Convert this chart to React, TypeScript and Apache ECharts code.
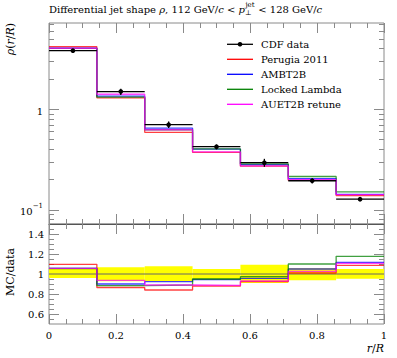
import React, { useEffect, useRef } from "react";
import * as echarts from "echarts";

// ---- data ----
const binEdges = [0, 0.142857, 0.285714, 0.428571, 0.571429, 0.714286, 0.857143, 1];
const binCenters = [0.071429, 0.214286, 0.357143, 0.5, 0.642857, 0.785714, 0.928571];

const cdfData = [3.82, 1.5, 0.703, 0.425, 0.295, 0.195, 0.128];
const cdfErrUp = [0.19, 0.1, 0.054, 0.021, 0.027, 0.012, 0.006];
const cdfErrDown = [0.15, 0.11, 0.051, 0.026, 0.027, 0.012, 0.006];

const perugia2011 = [4.19, 1.3, 0.59, 0.374, 0.272, 0.197, 0.139];
const ambt2b = [4.04, 1.35, 0.649, 0.402, 0.282, 0.205, 0.143];
const lockedLambda = [4.03, 1.32, 0.626, 0.404, 0.287, 0.215, 0.151];
const auet2bRetune = [4.04, 1.41, 0.626, 0.377, 0.274, 0.2, 0.142];

const ratioPerugia = [1.097, 0.865, 0.84, 0.88, 0.923, 1.01, 1.087];
const ratioAmbt2b = [1.057, 0.9, 0.923, 0.945, 0.957, 1.05, 1.117];
const ratioLocked = [1.055, 0.883, 0.89, 0.95, 0.973, 1.1, 1.177];
const ratioAuet2b = [1.057, 0.937, 0.89, 0.887, 0.93, 1.027, 1.107];

const bandLo = [0.96, 0.927, 0.927, 0.94, 0.91, 0.937, 0.953];
const bandHi = [1.05, 1.067, 1.077, 1.05, 1.093, 1.06, 1.05];

const legendNames = ["CDF data", "Perugia 2011", "AMBT2B", "Locked Lambda", "AUET2B retune"];
const legendColors = ["#000000", "#ff0000", "#0000ff", "#008000", "#ff00ff"];

const mainMajorTicks = [0.1, 1];
const mainMinorTicks = [0.08, 0.09, 0.2, 0.3, 0.4, 0.5, 0.6, 0.7, 0.8, 0.9, 2, 3, 4, 5, 6, 7];
const ratioMajorTicks = [0.6, 0.8, 1, 1.2, 1.4];
const ratioMinorTicks = [0.55, 0.65, 0.7, 0.75, 0.85, 0.9, 0.95, 1.05, 1.1, 1.15, 1.25, 1.3, 1.35, 1.45];

const FONT = "'DejaVu Serif', serif";
const FRAME = "#8a8a8a";

function stepData(vals: number[]) {
  return binEdges.map((e, i) => [e, vals[Math.min(i, vals.length - 1)]]);
}

function measure(text: string, font: string) {
  const c = document.createElement("canvas").getContext("2d");
  if (!c) return text.length * 6;
  c.font = font;
  return c.measureText(text).width;
}

export default function App() {
  const ref = useRef<HTMLDivElement>(null);
  useEffect(() => {
    if (!ref.current) return;
    const chart = echarts.init(ref.current, null, { renderer: "svg" });

    const tickStyle = { color: FRAME, width: 1 };
    const xAx = (grid: number, pos: string, labels: boolean, lineColor?: string) => ({
      gridIndex: grid,
      type: "value",
      min: 0,
      max: 1,
      interval: 0.2,
      position: pos,
      axisLine: lineColor ? { show: true, onZero: false, lineStyle: { color: lineColor, width: 1 } } : { show: false },
      axisTick: { show: true, inside: true, length: 10, lineStyle: tickStyle },
      minorTick: { show: true, splitNumber: 4, length: 5, lineStyle: tickStyle },
      splitLine: { show: false },
      minorSplitLine: { show: false },
      axisLabel: labels
        ? {
            show: true,
            margin: 6,
            fontFamily: FONT,
            fontSize: 10,
            color: "#000",
            formatter: (v: number) => (Math.abs(v) < 1e-9 ? "0" : Math.abs(v - 1) < 1e-9 ? "1" : v.toFixed(1)),
          }
        : { show: false },
    });

    const logAx = (pos: string, ticks: number[], len: number, labels: boolean) => ({
      gridIndex: 0,
      type: "log",
      logBase: 10,
      min: 0.0725,
      max: 7.2,
      position: pos,
      offset: 0,
      axisLine: { show: false },
      axisTick: { show: true, inside: true, length: len, customValues: ticks, lineStyle: tickStyle },
      splitLine: { show: false },
      axisLabel: labels
        ? {
            show: true,
            customValues: ticks,
            margin: 6,
            fontFamily: FONT,
            fontSize: 10,
            color: "#000",
            formatter: (v: number) => {
              const e = Math.round(Math.log10(v));
              if (e === 0) return "{b|1}";
              return "{b|10}{s|−" + Math.abs(e) + "}";
            },
            rich: {
              b: { fontFamily: FONT, fontSize: 10, lineHeight: 14, verticalAlign: "bottom", color: "#000" },
              s: { fontFamily: FONT, fontSize: 7, lineHeight: 8, verticalAlign: "top", color: "#000" },
            },
          }
        : { show: false },
    });

    const ratioAx = (pos: string, ticks: number[], len: number, labels: boolean) => ({
      gridIndex: 1,
      type: "value",
      min: 0.5,
      max: 1.5,
      position: pos,
      offset: 0,
      axisLine: { show: false },
      axisTick: { show: true, inside: true, length: len, customValues: ticks, lineStyle: tickStyle },
      splitLine: { show: false },
      axisLabel: labels
        ? {
            show: true,
            customValues: ticks,
            margin: 5,
            fontFamily: FONT,
            fontSize: 10,
            color: "#000",
            formatter: (v: number) => (Math.abs(v - 1) < 1e-9 ? "1" : v.toFixed(1)),
          }
        : { show: false },
    });

    const mcSeries = [
      { name: "Perugia 2011", main: perugia2011, ratio: ratioPerugia, color: legendColors[1] },
      { name: "AMBT2B", main: ambt2b, ratio: ratioAmbt2b, color: legendColors[2] },
      { name: "Locked Lambda", main: lockedLambda, ratio: ratioLocked, color: legendColors[3] },
      { name: "AUET2B retune", main: auet2bRetune, ratio: ratioAuet2b, color: legendColors[4] },
    ];

    const series: any[] = [];
    mcSeries.forEach((s) => {
      series.push({
        type: "line",
        name: s.name,
        xAxisIndex: 0,
        yAxisIndex: 0,
        step: "end",
        symbol: "none",
        lineStyle: { color: s.color, width: 1.3, opacity: 0.75 },
        data: stepData(s.main),
        z: 3,
      });
    });
    series.push({
      type: "custom",
      name: "CDF data",
      xAxisIndex: 0,
      yAxisIndex: 0,
      z: 10,
      encode: { x: [0, 1, 5], y: [2, 3, 4] },
      data: cdfData.map((v, i) => [binEdges[i], binEdges[i + 1], v, v - cdfErrDown[i], v + cdfErrUp[i], binCenters[i]]),
      renderItem: (params: any, api: any) => {
        const y = api.value(2);
        const xc = api.value(5);
        const pL = api.coord([api.value(0), y]);
        const pR = api.coord([api.value(1), y]);
        const pC = api.coord([xc, y]);
        const pLo = api.coord([xc, api.value(3)]);
        const pHi = api.coord([xc, api.value(4)]);
        return {
          type: "group",
          children: [
            { type: "line", shape: { x1: pL[0], y1: pL[1], x2: pR[0], y2: pR[1] }, style: { stroke: "#000", lineWidth: 1.3 } },
            { type: "line", shape: { x1: pLo[0], y1: pLo[1], x2: pHi[0], y2: pHi[1] }, style: { stroke: "#000", lineWidth: 1.3 } },
            { type: "circle", shape: { cx: pC[0], cy: pC[1], r: 2.3 }, style: { fill: "#000" } },
          ],
        };
      },
    });
    // ratio panel
    series.push({
      type: "custom",
      name: "band",
      xAxisIndex: 2,
      yAxisIndex: 4,
      z: 1,
      encode: { x: [0, 1], y: [2, 3] },
      data: bandLo.map((lo, i) => [binEdges[i], binEdges[i + 1], lo, bandHi[i]]),
      renderItem: (params: any, api: any) => {
        const a = api.coord([api.value(0), api.value(3)]);
        const b = api.coord([api.value(1), api.value(2)]);
        return {
          type: "rect",
          shape: { x: a[0], y: a[1], width: b[0] - a[0], height: b[1] - a[1] },
          style: { fill: "#ffff00" },
        };
      },
    });
    series.push({
      type: "line",
      name: "unity",
      xAxisIndex: 2,
      yAxisIndex: 4,
      symbol: "none",
      z: 2,
      lineStyle: { color: "#666", width: 1 },
      data: [
        [0, 1],
        [1, 1],
      ],
    });
    mcSeries.forEach((s) => {
      series.push({
        type: "line",
        name: s.name + " ratio",
        xAxisIndex: 2,
        yAxisIndex: 4,
        step: "end",
        symbol: "none",
        lineStyle: { color: s.color, width: 1.3, opacity: 0.75 },
        data: stepData(s.ratio),
        z: 3,
      });
    });

    // title made of pieces
    const fN = "10px " + FONT;
    const fI = "italic 10px " + FONT;
    const titleParts: [string, boolean][] = [
      ["Differential jet shape ", false],
      ["ρ", true],
      [", 112 GeV/", false],
      ["c", true],
      [" < ", false],
      ["p", true],
    ];
    const graphics: any[] = [];
    let tx = 49;
    const ty = 9;
    titleParts.forEach(([t, it]) => {
      graphics.push({
        type: "text",
        x: tx,
        y: ty,
        style: { text: t, font: it ? fI : fN, fill: "#000", verticalAlign: "middle", align: "left" },
      });
      tx += measure(t, it ? fI : fN);
    });
    const fS = "7px " + FONT;
    graphics.push({ type: "text", x: tx + 0.5, y: ty - 4, style: { text: "jet", font: fS, fill: "#000", verticalAlign: "middle" } });
    graphics.push({ type: "text", x: tx + 0.2, y: ty + 4, style: { text: "⊥", font: fS, fill: "#000", verticalAlign: "middle" } });
    tx += measure("jet", fS) + 1;
    [[" < 128 GeV/", false], ["c", true]].forEach(([t, it]: any) => {
      graphics.push({
        type: "text",
        x: tx,
        y: ty,
        style: { text: t, font: it ? fI : fN, fill: "#000", verticalAlign: "middle", align: "left" },
      });
      tx += measure(t, it ? fI : fN);
    });

    // axis names
    graphics.push({
      type: "text",
      x: 10,
      y: 23,
      rotation: Math.PI / 2,
      style: {
        text: "{i|ρ}{n|(}{i|r}{n|/}{i|R}{n|)}",
        align: "right",
        verticalAlign: "middle",
        rich: {
          i: { fontFamily: FONT, fontStyle: "italic", fontSize: 11, fill: "#000" },
          n: { fontFamily: FONT, fontSize: 11, fill: "#000" },
        },
      },
    });
    graphics.push({
      type: "text",
      x: 10,
      y: 272,
      rotation: Math.PI / 2,
      style: { text: "MC/data", font: "11px " + FONT, fill: "#000", align: "center", verticalAlign: "middle" },
    });
    graphics.push({
      type: "text",
      x: 384,
      y: 348,
      style: {
        text: "{i|r}{n|/}{i|R}",
        align: "right",
        verticalAlign: "middle",
        rich: {
          i: { fontFamily: FONT, fontStyle: "italic", fontSize: 11, fill: "#000" },
          n: { fontFamily: FONT, fontSize: 11, fill: "#000" },
        },
      },
    });

    // legend
    const legY0 = 44.3;
    legendNames.forEach((n, i) => {
      const y = legY0 + i * 15;
      graphics.push({
        type: "line",
        shape: { x1: 227, y1: y, x2: 253, y2: y },
        style: { stroke: legendColors[i], lineWidth: 1.3 },
      });
      if (i === 0) {
        graphics.push({ type: "circle", shape: { cx: 240, cy: y, r: 2.3 }, style: { fill: "#000" } });
      }
      graphics.push({
        type: "text",
        x: 261,
        y: y,
        style: { text: n, font: "10px " + FONT, fill: "#000", verticalAlign: "middle", align: "left" },
      });
    });

    chart.setOption({
      animation: false,
      backgroundColor: "#fff",
      grid: [
        { left: 49, top: 23, width: 335, height: 201, show: true, borderColor: FRAME, borderWidth: 1, backgroundColor: "transparent" },
        { left: 49, top: 224, width: 335, height: 100, show: true, borderColor: FRAME, borderWidth: 1, backgroundColor: "transparent" },
      ],
      xAxis: [xAx(0, "bottom", false), xAx(0, "top", false), xAx(1, "bottom", true), xAx(1, "top", false, "#555")],
      yAxis: [
        logAx("left", mainMajorTicks, 10, true),
        logAx("left", mainMinorTicks, 5, false),
        logAx("right", mainMajorTicks, 10, false),
        logAx("right", mainMinorTicks, 5, false),
        ratioAx("left", ratioMajorTicks, 10, true),
        ratioAx("left", ratioMinorTicks, 5, false),
        ratioAx("right", ratioMajorTicks, 10, false),
        ratioAx("right", ratioMinorTicks, 5, false),
      ],
      series,
      graphic: graphics,
    });
    return () => chart.dispose();
  }, []);
  return <div ref={ref} style={{ position: "fixed", left: 0, top: 0, width: 397, height: 358 }} />;
}
